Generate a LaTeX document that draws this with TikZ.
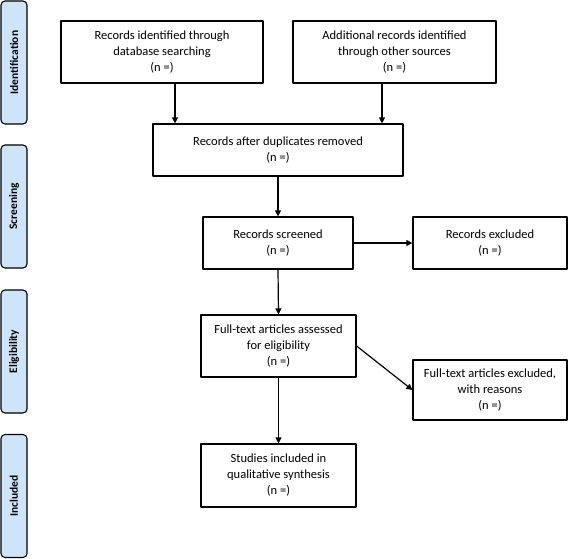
\documentclass[tikz,border=0pt]{standalone}
\usepackage{fontspec}
\setmainfont{Carlito}
\usetikzlibrary{arrows.meta}
\definecolor{phase}{RGB}{206,229,249}
\begin{document}
\begin{tikzpicture}[x=1pt,y=-1pt,line cap=round,line join=round,
  box/.style={draw,line width=1.2pt,align=center,inner sep=2pt,font=\fontsize{12.5}{16}\selectfont},
  phasebar/.style={draw,line width=1.1pt,fill=phase,rounded corners=4pt,minimum width=123pt,minimum height=26pt,rotate=90,font=\bfseries\fontsize{11.5}{14}\selectfont},
  arr/.style={-{Triangle[length=6pt,width=6pt]},line width=1.2pt}]
\useasboundingbox (0,0) rectangle (568,559);

\node[phasebar] (ident) at (14,62.5) {Identification};
\node[phasebar] (screen) at (14,206.5) {Screening};
\node[phasebar] (elig) at (14,351.5) {Eligibility};
\node[phasebar] (incl) at (14,496) {Included};

\node[box,minimum width=202pt,minimum height=62pt] (db) at (162,52) {Records identified through\\database searching\\(n =)};
\node[box,minimum width=203pt,minimum height=62pt] (other) at (394.5,52) {Additional records identified\\through other sources\\(n =)};
\node[box,minimum width=250pt,minimum height=52pt] (dup) at (278,150) {Records after duplicates removed\\(n =)};
\node[box,minimum width=150pt,minimum height=52pt] (screened) at (278,243) {Records screened\\(n =)};
\node[box,minimum width=154pt,minimum height=52pt] (excl) at (490,243) {Records excluded\\(n =)};
\node[box,minimum width=155pt,minimum height=62pt] (fulltext) at (278.5,346) {Full-text articles assessed\\for eligibility\\(n =)};
\node[box,minimum width=154pt,minimum height=60pt] (reasons) at (490,390) {Full-text articles excluded,\\with reasons\\(n =)};
\node[box,minimum width=155pt,minimum height=63pt] (studies) at (278.5,475.5) {Studies included in\\qualitative synthesis\\(n =)};

\draw[arr] ([xshift=13pt]db.south) -- ([xshift=13pt]db.south |- dup.north);
\draw[arr] ([xshift=-12.5pt]other.south) -- ([xshift=-12.5pt]other.south |- dup.north);
\draw[arr] (dup.south) -- (screened.north);
\draw[arr] (screened.east) -- (excl.west);
\draw[arr] (screened.south) -- (fulltext.north);
\draw[arr] (fulltext.east) -- (reasons.west);
\draw[arr] (fulltext.south) -- (studies.north);
\end{tikzpicture}
\end{document}
